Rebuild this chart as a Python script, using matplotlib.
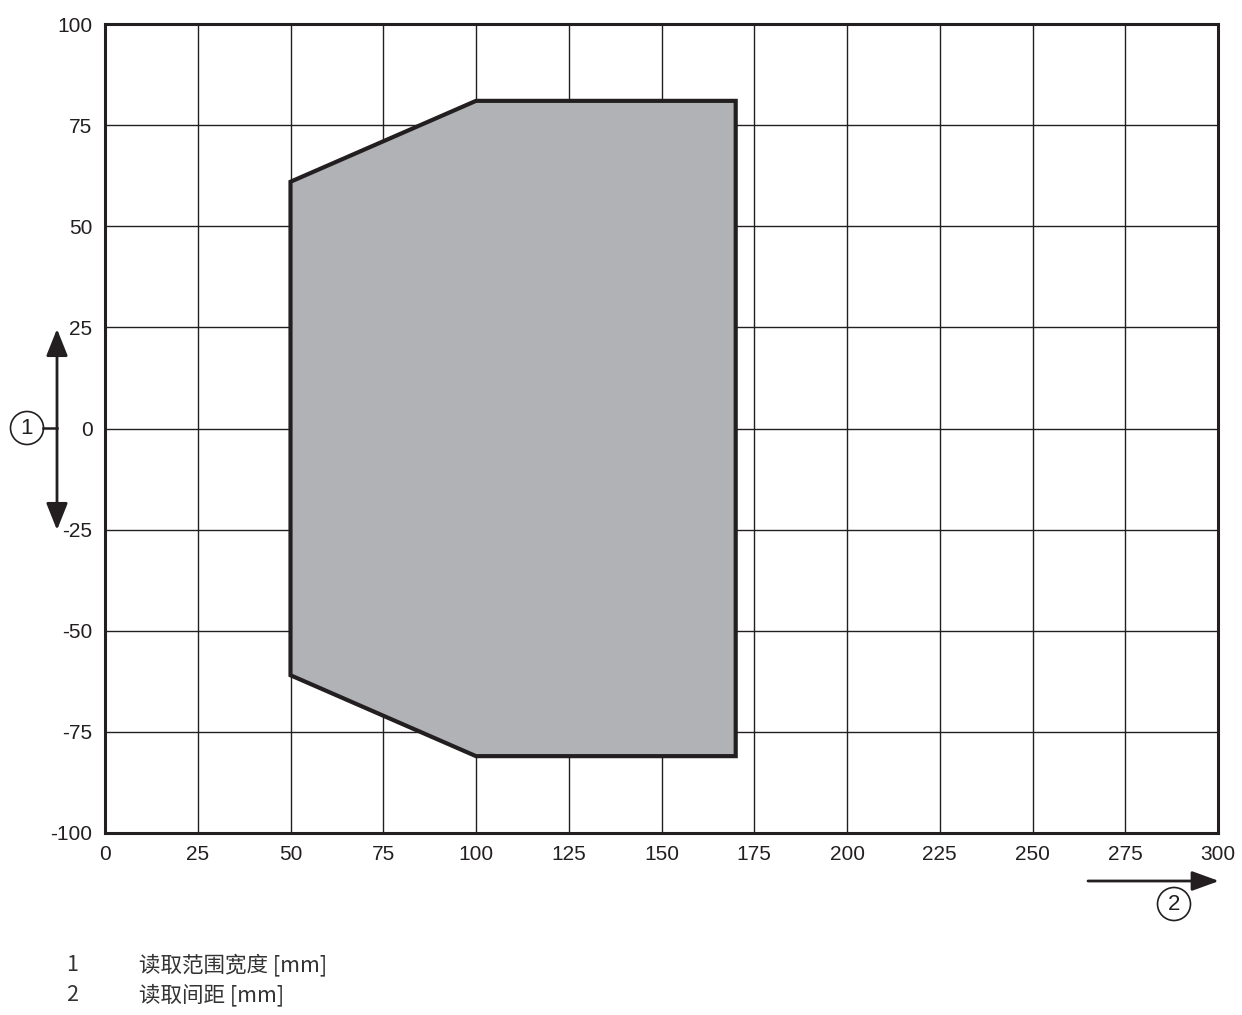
import matplotlib
matplotlib.use("Agg")
import matplotlib.pyplot as plt
from matplotlib.patches import Polygon, Circle, FancyArrowPatch

plt.rcParams['font.family'] = ['Liberation Sans', 'DejaVu Sans']

# Data
distance_mm = [50, 100, 170, 170, 100, 50]
width_mm = [61, 81, 81, -81, -81, -61]
x_ticks = [0, 25, 50, 75, 100, 125, 150, 175, 200, 225, 250, 275, 300]
y_ticks = [100, 75, 50, 25, 0, -25, -50, -75, -100]
legend_nums = ["1", "2"]
legend_texts = ["读取范围宽度 [mm]", "读取间距 [mm]"]

W, H = 1242, 1015
fig = plt.figure(figsize=(W / 100, H / 100), dpi=100)

def fx(px):
    return px / W

def fy(py):
    return 1 - py / H

L, R, T, B = 105, 1218, 24, 833
ax = fig.add_axes([fx(L), fy(B), fx(R) - fx(L), fy(T) - fy(B)])
ax.set_xlim(0, 300)
ax.set_ylim(-100, 100)
ax.set_xticks(x_ticks)
ax.set_yticks(y_ticks)
ax.set_xticklabels([str(v) for v in x_ticks])
ax.set_yticklabels([str(v) for v in y_ticks])
ax.tick_params(length=0, labelsize=15, colors='#231f20', pad=9)
ax.tick_params(axis='y', pad=9)
ax.grid(True, color='#231f20', linewidth=1.0)
ax.set_axisbelow(True)
for s in ax.spines.values():
    s.set_linewidth(2.2)
    s.set_color('#231f20')

poly = Polygon(list(zip(distance_mm, width_mm)), closed=True,
               facecolor='#b1b2b5', edgecolor='#231f20', linewidth=3.0,
               joinstyle='miter', zorder=3)
ax.add_patch(poly)

# Annotation: vertical double arrow with circled 1
arr1 = FancyArrowPatch((fx(57), fy(329)), (fx(57), fy(530)), transform=fig.transFigure,
                       arrowstyle='<|-|>,head_length=0.55,head_width=0.22',
                       mutation_scale=30, linewidth=2.0, color='#231f20',
                       shrinkA=0, shrinkB=0)
fig.patches.append(arr1)
fig.add_artist(plt.Line2D([fx(43), fx(57)], [fy(428), fy(428)], transform=fig.transFigure,
                          color='#231f20', linewidth=1.8))
c1 = Circle((27, H - 428), 16.5, transform=None, facecolor='white', edgecolor='#231f20',
            linewidth=1.2)
fig.patches.append(c1)
fig.text(fx(27), fy(428), "1", ha='center', va='center', fontsize=16, color='#231f20')

# Annotation: horizontal arrow with circled 2
arr2 = FancyArrowPatch((fx(1088), fy(881)), (fx(1219), fy(881)), transform=fig.transFigure,
                       arrowstyle='-|>,head_length=0.55,head_width=0.2',
                       mutation_scale=30, linewidth=2.0, color='#231f20',
                       shrinkA=0, shrinkB=0)
fig.patches.append(arr2)
c2 = Circle((1174, H - 904), 16.5, transform=None, facecolor='white', edgecolor='#231f20',
            linewidth=1.2)
fig.patches.append(c2)
fig.text(fx(1174), fy(904), "2", ha='center', va='center', fontsize=16, color='#231f20')

# Legend text
for i, (n, t) in enumerate(zip(legend_nums, legend_texts)):
    y = 965 + i * 30
    fig.text(fx(72), fy(y), n, ha='center', va='center', fontsize=15.5, color='#333333',
             family=['Noto Sans CJK SC', 'DejaVu Sans'])
    fig.text(fx(139), fy(y), t, ha='left', va='center', fontsize=15.5, color='#333333',
             family=['Noto Sans CJK SC', 'DejaVu Sans'])

fig.savefig("out.png", dpi=100)
